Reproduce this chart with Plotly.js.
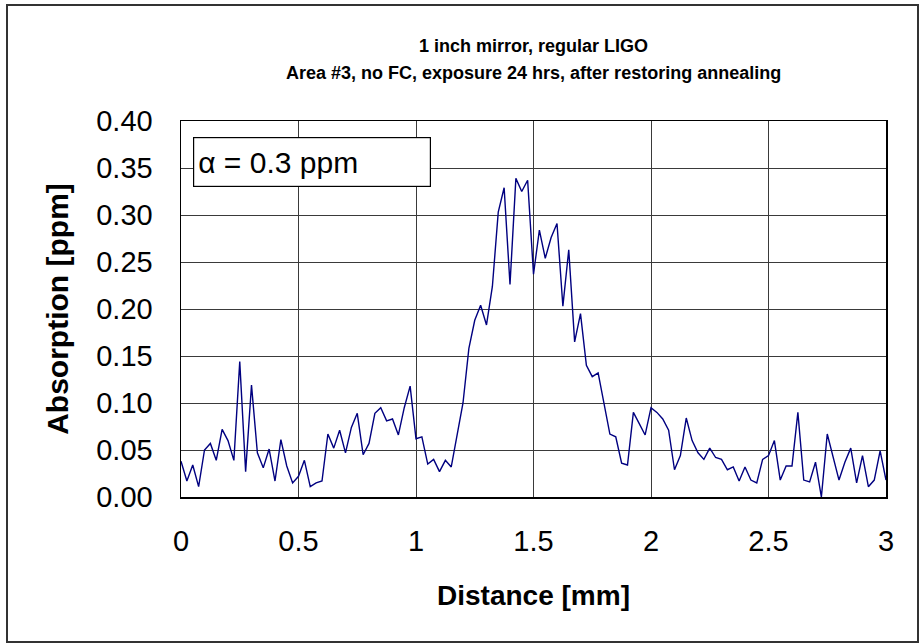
<!DOCTYPE html>
<html>
<head>
<meta charset="utf-8">
<script src="https://cdn.plot.ly/plotly-3.0.1.min.js"></script>
<style>html,body{margin:0;padding:0;background:#fff;}#chart{width:920px;height:644px;}</style>
</head>
<body>
<div id="chart"></div>
<script>
const distance = [
  0.000,0.025,0.050,0.075,0.100,0.125,0.150,0.175,0.200,0.225,
  0.250,0.275,0.300,0.325,0.350,0.375,0.400,0.425,0.450,0.475,
  0.500,0.525,0.550,0.575,0.600,0.625,0.650,0.675,0.700,0.725,
  0.750,0.775,0.800,0.825,0.850,0.875,0.900,0.925,0.950,0.975,
  1.000,1.025,1.050,1.075,1.100,1.125,1.150,1.175,1.200,1.225,
  1.250,1.275,1.300,1.325,1.350,1.375,1.400,1.425,1.450,1.475,
  1.500,1.525,1.550,1.575,1.600,1.625,1.650,1.675,1.700,1.725,
  1.750,1.775,1.800,1.825,1.850,1.875,1.900,1.925,1.950,1.975,
  2.000,2.025,2.050,2.075,2.100,2.125,2.150,2.175,2.200,2.225,
  2.250,2.275,2.300,2.325,2.350,2.375,2.400,2.425,2.450,2.475,
  2.500,2.525,2.550,2.575,2.600,2.625,2.650,2.675,2.700,2.725,
  2.750,2.775,2.800,2.825,2.850,2.875,2.900,2.925,2.950,2.975,
  3.000
];
const absorption = [
  0.038,0.017,0.034,0.011,0.050,0.057,0.039,0.072,0.060,0.039,
  0.144,0.027,0.119,0.047,0.031,0.051,0.017,0.061,0.033,0.015,
  0.022,0.039,0.011,0.015,0.017,0.067,0.052,0.071,0.047,0.074,
  0.089,0.045,0.057,0.089,0.095,0.081,0.083,0.066,0.095,0.118,
  0.062,0.064,0.035,0.040,0.027,0.039,0.032,0.064,0.100,0.158,
  0.188,0.204,0.183,0.224,0.303,0.329,0.226,0.339,0.325,0.337,
  0.237,0.284,0.254,0.276,0.291,0.203,0.263,0.165,0.195,0.140,
  0.128,0.132,0.099,0.067,0.064,0.036,0.034,0.090,0.078,0.066,
  0.095,0.090,0.083,0.071,0.029,0.044,0.084,0.060,0.047,0.040,
  0.052,0.042,0.040,0.029,0.032,0.017,0.032,0.018,0.015,0.040,
  0.044,0.060,0.018,0.033,0.033,0.090,0.018,0.016,0.037,0.000,
  0.067,0.042,0.018,0.037,0.052,0.015,0.044,0.011,0.018,0.049,
  0.018
];
const titleLine1 = "1 inch mirror, regular LIGO";
const titleLine2 = "Area #3, no FC, exposure 24 hrs, after restoring annealing";
const xLabel = "Distance [mm]";
const yLabel = "Absorption [ppm]";
const noteText = "\u03b1 = 0.3 ppm";

const FONT = "Liberation Sans, Arial, sans-serif";

const trace = {
  x: distance, y: absorption, type: "scatter", mode: "lines",
  line: {color: "#000080", width: 1.4}, hoverinfo: "skip"
};

// paper-coordinate helpers for the plot area (x 181..886 px, y 121..497 px)
const PX = p => (p - 181) / 705;
const PY = p => (497 - p) / 376;

const layout = {
  width: 920, height: 644,
  paper_bgcolor: "#ffffff", plot_bgcolor: "#ffffff",
  margin: {l: 181, r: 34, t: 121, b: 147, pad: 0},
  showlegend: false,
  font: {family: FONT, color: "#000"},
  title: {
    text: titleLine1, font: {family: FONT, size: 18, weight: "bold", color: "#000"},
    x: 533.5/920, xanchor: "center", y: 1 - 46/644, yanchor: "middle", xref: "container", yref: "container"
  },
  xaxis: {
    range: [0, 3], dtick: 0.5, tick0: 0,
    showgrid: true, gridcolor: "#3a3a3a", gridwidth: 1,
    zeroline: false, showline: true, mirror: true, linecolor: "#000", linewidth: 1.5,
    ticks: "", ticklabelstandoff: 18,
    tickfont: {family: FONT, size: 29, color: "#000"},
    title: {text: xLabel, font: {family: FONT, size: 28, weight: "bold", color: "#000"}, standoff: 29}
  },
  yaxis: {
    range: [0, 0.4], dtick: 0.05, tick0: 0, tickformat: ".2f",
    showgrid: true, gridcolor: "#3a3a3a", gridwidth: 1,
    zeroline: false, showline: true, mirror: true, linecolor: "#000", linewidth: 1.5,
    ticks: "", ticklabelstandoff: 21,
    tickfont: {family: FONT, size: 29, color: "#000"},
    title: {text: yLabel, font: {family: FONT, size: 30, weight: "bold", color: "#000"}, standoff: 18}
  },
  annotations: [
    {
      text: titleLine2, xref: "paper", yref: "paper",
      x: 0.5, y: PY(73), xanchor: "center", yanchor: "middle",
      showarrow: false, font: {family: FONT, size: 18, weight: "bold", color: "#000"}
    },
    {
      text: noteText, xref: "paper", yref: "paper",
      x: PX(193), y: PY(137), xanchor: "left", yanchor: "top",
      showarrow: false, align: "left", valign: "middle",
      width: 228, height: 40, borderpad: 4,
      bordercolor: "#000", borderwidth: 1.2, bgcolor: "#ffffff",
      font: {family: FONT, size: 30, color: "#000"}
    }
  ],
  shapes: [
    {type: "rect", xref: "paper", yref: "paper", x0: PX(7), x1: PX(918), y0: PY(5), y1: PY(642),
     line: {color: "#333", width: 2}, fillcolor: "rgba(0,0,0,0)", layer: "below"}
  ]
};

Plotly.newPlot("chart", [trace], layout, {staticPlot: true, displayModeBar: false});
</script>
</body>
</html>
